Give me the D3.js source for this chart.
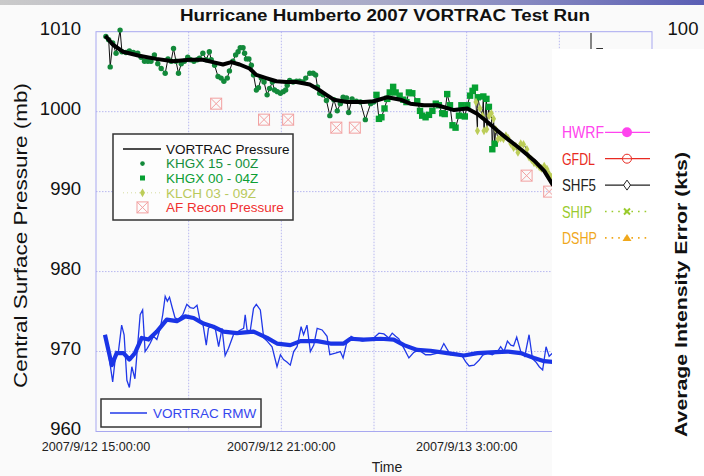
<!DOCTYPE html>
<html lang="en">
<head>
  <meta charset="utf-8">
  <title>Hurricane Humberto 2007 VORTRAC Test Run</title>
  <style>
    body { margin:0; background:#fafafa; }
    svg  { display:block; }
    text { font-family: "Liberation Sans", Arial, sans-serif; }
  </style>
</head>
<body>
<script src="https://d3js.org/d3.v7.min.js"></script>
<script>

// -- data: time in hours after 2007/9/12 15:00, pressure in mb --
const startTime = new Date(2007, 8, 12, 15, 0, 0);
const endTime   = new Date(2007, 8, 13, 9, 0, 0);
const pressureTicks = [960, 970, 980, 990, 1000, 1010];
const labelHours = [0, 6, 12];

// KHGX 15 - 00Z (circles)
const khgx15 = [
  [0.32,1009.4],[0.41,1009.0],[0.46,1005.6],[0.54,1008.6],[0.65,1007.3],[0.78,1010.2],[0.84,1007.5],
  [0.97,1007.4],[1.08,1007.6],[1.21,1007.4],[1.35,1007.3],[1.46,1006.8],[1.57,1006.3],[1.68,1006.3],
  [1.78,1006.3],[1.89,1007.1],[2.00,1006.0],[2.11,1005.4],[2.24,1004.8],[2.33,1006.6],[2.43,1006.3],
  [2.51,1007.9],[2.59,1006.3],[2.67,1004.8],[2.76,1006.0],[2.86,1006.3],[2.97,1006.8],[3.06,1006.5],
  [3.17,1006.3],[3.28,1006.5],[3.35,1006.7],[3.46,1007.3],[3.57,1006.5],[3.67,1007.5],[3.73,1006.5],
  [3.84,1005.8],[3.95,1004.4],[4.05,1004.2],[4.14,1003.8],[4.25,1004.2],[4.32,1005.1],[4.43,1006.3],
  [4.52,1007.1],[4.60,1007.5],[4.67,1008.0],[4.76,1008.0],[4.81,1007.3],[4.87,1006.6],[4.95,1006.6],
  [5.03,1005.8],[5.10,1004.6],[5.19,1002.7],[5.26,1003.0],[5.35,1004.2],[5.44,1003.7],[5.54,1002.1],
  [5.62,1002.9],[5.71,1003.7],[5.78,1002.7],[5.87,1002.5],[5.97,1002.3],[6.06,1002.5],[6.14,1002.7],
  [6.19,1003.3],[6.27,1003.9],[6.38,1003.7],[6.49,1003.8],[6.59,1003.8],[6.70,1003.7],[6.79,1004.2],
  [6.92,1004.8],[7.03,1004.8],[7.11,1004.6],[7.17,1003.1],[7.24,1002.3],[7.35,1002.1],[7.46,1001.4],
  [7.57,999.5],[7.70,1001.5],[7.81,1000.1],[7.91,1001.0],[8.00,1001.8],[8.11,1001.7],[8.18,999.9],
  [8.29,1001.6],[8.43,1001.3],[8.56,1001.2],[8.72,999.0],[8.89,1001.0],[8.99,1001.2]
];

// KHGX 00 - 04Z (squares)
const khgx00 = [
  [9.08,1002.1],[9.16,999.1],[9.24,999.3],[9.34,1000.4],[9.43,1001.6],[9.51,1002.4],[9.62,1003.1],
  [9.70,1002.4],[9.83,1002.0],[9.95,1001.5],[10.05,1001.2],[10.13,1002.4],[10.24,1002.3],[10.40,1001.3],
  [10.49,1000.1],[10.56,999.5],[10.67,999.3],[10.78,999.6],[10.89,1000.1],[11.00,1001.0],[11.10,1000.8],
  [11.21,999.8],[11.29,999.7],[11.37,1002.2],[11.46,1000.8],[11.54,998.3],[11.64,998.0],[11.75,999.5],
  [11.83,1000.8],[11.94,999.4],[12.02,1000.8],[12.11,1002.0],[12.19,1002.6],[12.27,1003.0],[12.36,1001.8],
  [12.54,1001.9],[12.64,1001.6],[12.72,1000.6],[12.83,995.3],[12.91,996.0]
];

// KLCH 03 - 09Z (diamonds)
const klch03 = [
  [12.30,1001.2],[12.35,997.6],[12.43,1000.4],[12.51,999.5],[12.56,997.6],[12.65,997.8],[12.73,999.5],
  [12.80,999.8],[12.87,999.1],[12.94,997.8],[13.02,996.6],[13.10,996.7],[13.19,996.6],[13.27,997.0],
  [13.34,996.7],[13.43,996.0],[13.52,995.5],[13.59,995.7],[13.66,994.9],[13.75,996.0],[13.84,995.9],
  [13.95,995.3],[14.02,994.3],[14.10,994.0],[14.18,993.6],[14.27,993.4],[14.35,993.1],[14.42,992.9],
  [14.51,993.2],[14.60,992.8],[14.67,992.2],[14.75,991.8],[14.85,991.2],[14.95,990.6]
];

// VORTRAC pressure (smoothed)
const vortracPressure = [
  [0.30,1009.5],[0.54,1008.4],[0.87,1007.5],[1.40,1007.0],[1.95,1006.6],[2.49,1006.3],[3.03,1006.5],
  [3.46,1006.5],[3.78,1006.2],[4.11,1005.9],[4.38,1006.2],[4.65,1005.9],[4.97,1005.4],[5.19,1004.6],
  [5.51,1004.2],[5.84,1003.8],[6.16,1003.7],[6.49,1003.7],[6.92,1003.4],[7.19,1002.8],[7.46,1002.1],
  [7.70,1001.5],[8.13,1001.2],[8.67,1001.2],[8.99,1001.3],[9.43,1001.8],[9.86,1001.5],[10.18,1001.0],
  [10.62,1000.8],[11.05,1000.8],[11.59,1000.2],[12.02,1000.4],[12.35,999.7],[12.67,998.7],[13.00,997.6],
  [13.32,996.6],[13.75,995.3],[14.18,993.9],[14.51,992.6],[14.78,990.9],[15.00,990.0]
];

// AF recon pressure
const reconPressure = [
  [3.89,1001],[5.44,999],[6.22,999],[7.78,998],[8.38,998],[13.94,992],[14.67,990]
];

// VORTRAC RMW, raw and smoothed (as plotted against the pressure axis)
const rmwRaw = [
  [0.32,972.0],[0.54,966.2],[0.65,970.0],[0.72,969.8],[0.83,973.3],[0.91,972.1],[1.00,966.4],[1.08,965.5],
  [1.16,968.1],[1.26,966.6],[1.34,970.4],[1.43,974.6],[1.51,975.2],[1.59,970.0],[1.66,970.4],[1.75,971.0],
  [1.86,971.9],[1.97,971.5],[2.08,972.9],[2.16,974.6],[2.24,976.9],[2.31,976.3],[2.38,976.8],[2.46,975.6],
  [2.56,974.2],[2.67,974.0],[2.81,974.6],[2.94,975.9],[3.05,975.5],[3.16,975.4],[3.27,975.8],[3.37,973.8],
  [3.46,973.5],[3.57,970.8],[3.64,972.9],[3.75,973.3],[3.86,972.9],[3.97,970.6],[4.08,972.9],[4.18,969.5],
  [4.29,970.4],[4.45,972.1],[4.67,972.7],[4.78,972.9],[4.83,974.6],[4.89,972.7],[4.99,972.5],[5.10,975.4],
  [5.19,975.9],[5.32,975.2],[5.43,971.7],[5.54,971.3],[5.70,970.6],[5.86,968.1],[5.97,969.6],[6.07,969.0],
  [6.18,968.7],[6.29,968.3],[6.40,970.0],[6.51,970.6],[6.64,973.1],[6.72,972.1],[6.83,973.3],[6.94,970.0],
  [7.05,970.8],[7.16,972.9],[7.32,972.7],[7.48,971.9],[7.57,969.6],[7.75,969.8],[7.91,970.0],[8.00,969.2],
  [8.11,971.0],[8.26,971.9],[8.46,971.5],[8.62,971.3],[8.78,971.5],[8.99,971.7],[9.16,972.3],[9.32,972.2],
  [9.48,971.7],[9.59,972.3],[9.70,971.9],[9.80,971.6],[9.97,970.4],[10.13,969.2],[10.29,969.9],[10.45,970.2],
  [10.67,969.6],[10.83,969.6],[11.05,969.8],[11.16,970.2],[11.26,971.0],[11.35,970.4],[11.48,969.6],[11.68,969.8],
  [11.86,969.4],[11.97,968.7],[12.08,968.2],[12.24,968.3],[12.40,968.9],[12.51,969.5],[12.67,969.8],[12.83,969.6],
  [13.00,970.0],[13.10,970.6],[13.21,970.0],[13.32,971.3],[13.43,970.8],[13.52,970.7],[13.62,971.8],[13.75,970.0],
  [13.88,969.4],[14.02,972.1],[14.13,969.1],[14.24,968.7],[14.35,968.1],[14.46,967.7],[14.57,970.6],[14.67,969.4],
  [14.78,969.8],[14.90,969.5]
];
const rmwSmooth = [
  [0.29,972.1],[0.51,968.3],[0.67,969.8],[0.89,969.8],[1.08,969.0],[1.26,969.8],[1.48,971.7],[1.70,971.5],
  [1.97,972.5],[2.29,974.0],[2.62,973.8],[2.89,974.4],[3.16,974.2],[3.48,973.5],[3.80,973.1],[4.13,972.5],
  [4.56,972.3],[5.10,972.5],[5.54,971.7],[5.86,971.0],[6.29,970.8],[6.62,971.3],[7.16,971.3],[7.59,971.0],
  [8.02,971.0],[8.24,971.6],[8.67,971.5],[9.21,971.6],[9.64,971.5],[9.97,970.8],[10.40,970.2],[10.83,970.1],
  [11.37,969.8],[11.91,969.5],[12.35,969.8],[12.78,969.9],[13.32,970.0],[13.75,969.8],[14.18,969.2],[14.51,968.8],
  [14.78,968.7],[15.00,968.6]
];

// second chart (partly hidden) legend
const modelNames  = ["HWRF", "GFDL", "SHF5", "SHIP", "DSHP"];
const modelColors = ["#ff44ee", "#e82a22", "#222222", "#9acb2e", "#f0a81c"];

const width = 704, height = 476;
const svg = d3.select("body").append("svg")
  .attr("width", width).attr("height", height);

svg.append("rect").attr("width", width).attr("height", height).attr("fill", "#fafafa");

// slide band at top
const grad = svg.append("defs").append("linearGradient").attr("id", "band");
grad.append("stop").attr("offset", "0%").attr("stop-color", "#cacaca");
grad.append("stop").attr("offset", "55%").attr("stop-color", "#a8a9c8");
grad.append("stop").attr("offset", "100%").attr("stop-color", "#5a5eb4");
svg.append("rect").attr("width", width).attr("height", 5).attr("fill", "url(#band)");

const toDate = h => new Date(startTime.getTime() + h * 3600e3);

const x = d3.scaleTime().domain([startTime, endTime]).range([96, 652]);
const y = d3.scaleLinear().domain([960, 1010]).range([431.5, 31.7]);
const fmt = d3.timeFormat("%Y/%-m/%-d %-H:%M:%S");

svg.append("defs").append("clipPath").attr("id", "plot")
  .append("rect").attr("x", 96).attr("y", 20).attr("width", 556).attr("height", 412);

// grid
const grid = svg.append("g");
grid.selectAll("line.v")
  .data(x.ticks(d3.timeHour.every(3)).slice(1, -1))
  .join("line")
    .attr("x1", d => x(d)).attr("x2", d => x(d))
    .attr("y1", y(1010)).attr("y2", y(960))
    .attr("stroke", "#b8b8f0").attr("stroke-dasharray", "1.5,1.5");
grid.selectAll("line.h")
  .data(pressureTicks.slice(1, -1))
  .join("line")
    .attr("x1", 96).attr("x2", 652)
    .attr("y1", d => y(d)).attr("y2", d => y(d))
    .attr("stroke", "#b8b8f0").attr("stroke-dasharray", "1.5,1.5");
svg.append("rect")
  .attr("x", 96).attr("y", y(1010)).attr("width", 556).attr("height", y(960) - y(1010))
  .attr("fill", "none").attr("stroke", "#a8a8f0").attr("stroke-width", 1);

const line = d3.line().x(d => x(toDate(d[0]))).y(d => y(d[1]));
const plot = svg.append("g").attr("clip-path", "url(#plot)");

// RMW
plot.append("path").attr("d", line(rmwRaw))
  .attr("fill", "none").attr("stroke", "#2038e8").attr("stroke-width", 1.3);
plot.append("path").attr("d", line(rmwSmooth))
  .attr("fill", "none").attr("stroke", "#1a34e6").attr("stroke-width", 4.2).attr("stroke-linejoin", "round");

// raw pressure connected
const allRaw = khgx15.concat(khgx00, klch03).sort((a, b) => a[0] - b[0]);
plot.append("path").attr("d", line(allRaw))
  .attr("fill", "none").attr("stroke", "#111").attr("stroke-width", 1);

plot.append("g").selectAll("circle")
  .data(khgx15).join("circle")
    .attr("cx", d => x(toDate(d[0]))).attr("cy", d => y(d[1]))
    .attr("r", 2.7).attr("fill", "#12893a");
plot.append("g").selectAll("rect")
  .data(khgx00).join("rect")
    .attr("x", d => x(toDate(d[0])) - 3.2).attr("y", d => y(d[1]) - 3.2)
    .attr("width", 6.4).attr("height", 6.4).attr("fill", "#06a032");
const diamond = d3.symbol().type(d3.symbolDiamond).size(22);
plot.append("g").selectAll("path")
  .data(klch03).join("path")
    .attr("transform", d => `translate(${x(toDate(d[0]))},${y(d[1])})`)
    .attr("d", diamond).attr("fill", "#bccd58");

// recon boxes
function reconMark(g, cx, cy) {
  g.append("rect").attr("x", cx - 5.5).attr("y", cy - 5.5).attr("width", 11).attr("height", 11)
    .attr("fill", "none").attr("stroke", "#f2a0a0").attr("stroke-width", 1);
  g.append("path").attr("d", `M${cx - 5.5},${cy - 5.5}L${cx + 5.5},${cy + 5.5}M${cx + 5.5},${cy - 5.5}L${cx - 5.5},${cy + 5.5}`)
    .attr("stroke", "#f2a0a0").attr("stroke-width", 1);
}
const recon = plot.append("g");
reconPressure.forEach(d => reconMark(recon, x(toDate(d[0])), y(d[1])));

// smoothed VORTRAC pressure
plot.append("path").attr("d", line(vortracPressure))
  .attr("fill", "none").attr("stroke", "#000").attr("stroke-width", 4).attr("stroke-linejoin", "round");

// axes labels
svg.append("g").selectAll("text")
  .data(pressureTicks).join("text")
    .attr("x", 81).attr("y", d => y(d) + 3.6)
    .attr("text-anchor", "end").style("font-size", "18.5px").attr("fill", "#111")
    .text(d => d);
svg.append("g").selectAll("text")
  .data(labelHours).join("text")
    .attr("x", d => x(toDate(d))).attr("y", 450.5)
    .attr("text-anchor", "middle").style("font-size", "12.6px").attr("fill", "#222")
    .text(d => fmt(toDate(d)));
svg.append("text").attr("x", 387).attr("y", 472).attr("text-anchor", "middle")
  .style("font-size", "14px").attr("fill", "#222").text("Time");
svg.append("text")
  .attr("transform", "translate(27,235.5) rotate(-90)")
  .attr("text-anchor", "middle").style("font-size", "18px").attr("fill", "#111")
  .attr("textLength", 305).attr("lengthAdjust", "spacingAndGlyphs")
  .text("Central Surface Pressure (mb)");
svg.append("text").attr("x", 385).attr("y", 20.7).attr("text-anchor", "middle")
  .style("font-size", "16px").style("font-weight", "bold").attr("fill", "#111")
  .attr("textLength", 410).attr("lengthAdjust", "spacingAndGlyphs")
  .text("Hurricane Humberto 2007 VORTRAC Test Run");

// pressure legend
const leg = svg.append("g");
leg.append("rect").attr("x", 113).attr("y", 134).attr("width", 180).attr("height", 86)
  .attr("fill", "#fdfdfd").attr("stroke", "#333").attr("stroke-width", 1.5);
const legRows = [
  { label: "VORTRAC Pressure", color: "#111" },
  { label: "KHGX 15 - 00Z", color: "#15903c" },
  { label: "KHGX 00 - 04Z", color: "#0c9e34" },
  { label: "KLCH 03 - 09Z", color: "#b9c95c" },
  { label: "AF Recon Pressure", color: "#f03030" }
];
legRows.forEach((r, i) => {
  const ly = 149 + i * 14.6;
  leg.append("text").attr("x", 166).attr("y", ly + 4.8).style("font-size", "13.5px")
    .attr("fill", r.color).text(r.label);
});
leg.append("line").attr("x1", 123).attr("x2", 161).attr("y1", 149).attr("y2", 149)
  .attr("stroke", "#111").attr("stroke-width", 1.5);
leg.append("circle").attr("cx", 142.5).attr("cy", 163.6).attr("r", 2.3).attr("fill", "#12893a");
leg.append("rect").attr("x", 140).attr("y", 175.5).attr("width", 5).attr("height", 5).attr("fill", "#06a032");
leg.append("line").attr("x1", 123).attr("x2", 161).attr("y1", 192.8).attr("y2", 192.8)
  .attr("stroke", "#d6dca0").attr("stroke-dasharray", "1,3");
leg.append("path").attr("transform", "translate(142.5,192.8)").attr("d", diamond).attr("fill", "#bccd58");
reconMark(leg, 142.5, 207.4);

// RMW legend
const leg2 = svg.append("g");
leg2.append("rect").attr("x", 101).attr("y", 399).attr("width", 160).attr("height", 28)
  .attr("fill", "#fdfdfd").attr("stroke", "#333").attr("stroke-width", 1.5);
leg2.append("line").attr("x1", 110).attr("x2", 147).attr("y1", 413).attr("y2", 413)
  .attr("stroke", "#2038e8").attr("stroke-width", 1.3);
leg2.append("text").attr("x", 153).attr("y", 418).style("font-size", "13.5px")
  .attr("fill", "#3446ee").text("VORTRAC RMW");

// second chart peeking out on the right
svg.append("line").attr("x1", 591).attr("x2", 591).attr("y1", 33).attr("y2", 50)
  .attr("stroke", "#111").attr("stroke-width", 1);
svg.append("path").attr("d", "M596.5,50V48.5H603").attr("fill", "none").attr("stroke", "#333");
svg.append("text").attr("x", 683).attr("y", 35).attr("text-anchor", "middle")
  .style("font-size", "18.5px").attr("fill", "#111").text("100");
svg.append("rect").attr("x", 552).attr("y", 49).attr("width", 152).attr("height", 427).attr("fill", "#ffffff");

const leg3 = svg.append("g").style("font-family", "'DejaVu Sans Condensed', 'DejaVu Sans', sans-serif");
const nameWidths = [42, 33, 34, 30, 35];
modelNames.forEach((name, i) => {
  const ly = 132.3 + i * 26.4;
  const c = modelColors[i];
  leg3.append("text").attr("x", 562).attr("y", ly + 6).style("font-size", "16px")
    .attr("fill", c).attr("textLength", nameWidths[i]).attr("lengthAdjust", "spacingAndGlyphs")
    .text(name);
  const dotted = i >= 3;
  leg3.append("line").attr("x1", 605).attr("x2", 650).attr("y1", ly).attr("y2", ly)
    .attr("stroke", c).attr("stroke-width", dotted ? 1.6 : 1.2)
    .attr("stroke-dasharray", dotted ? "1.6,5" : null);
  const mx = 627;
  if (i === 0) leg3.append("circle").attr("cx", mx).attr("cy", ly).attr("r", 5).attr("fill", c);
  if (i === 1) leg3.append("circle").attr("cx", mx).attr("cy", ly).attr("r", 4.5).attr("fill", "#fff").attr("stroke", c);
  if (i === 1) leg3.append("line").attr("x1", mx - 4.5).attr("x2", mx + 4.5).attr("y1", ly).attr("y2", ly).attr("stroke", c);
  if (i === 2) leg3.append("path").attr("d", `M${mx},${ly - 5}L${mx + 3.5},${ly}L${mx},${ly + 5}L${mx - 3.5},${ly}Z`)
    .attr("fill", "#fff").attr("stroke", c);
  if (i === 3) leg3.append("path").attr("d", `M${mx - 3},${ly - 3}L${mx + 3},${ly + 3}M${mx + 3},${ly - 3}L${mx - 3},${ly + 3}`)
    .attr("stroke", c).attr("stroke-width", 2);
  if (i === 4) leg3.append("path").attr("d", `M${mx},${ly - 4}L${mx + 4.5},${ly + 3}L${mx - 4.5},${ly + 3}Z`)
    .attr("fill", c);
});
leg3.append("text")
  .attr("transform", "translate(687,294.5) rotate(-90)")
  .attr("text-anchor", "middle").style("font-size", "17px").style("font-weight", "bold")
  .attr("fill", "#111").attr("textLength", 285).attr("lengthAdjust", "spacingAndGlyphs")
  .text("Average Intensity Error (kts)");

</script>
</body>
</html>
